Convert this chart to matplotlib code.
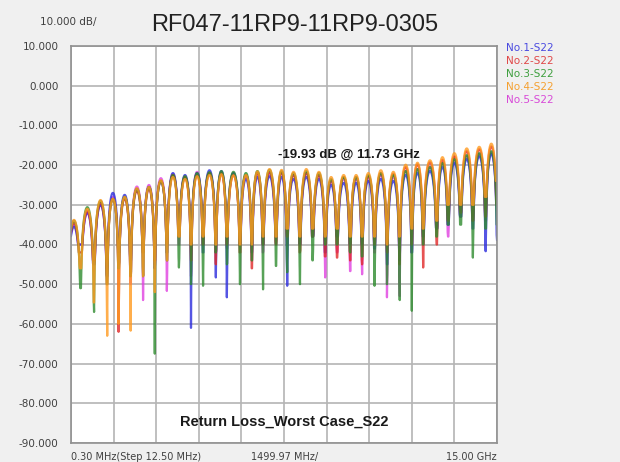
import numpy as np
import matplotlib
matplotlib.use("Agg")
import matplotlib.pyplot as plt

# sweep: 0.30 MHz start, 12.50 MHz step, up to 15 GHz
f_start = 0.0003
f_step = 0.0125
n_pts = 1201

# frequencies (GHz) of the ripple nulls
nulls = [0.34, 0.81, 1.27, 1.68, 2.10, 2.54, 2.95, 3.38, 3.80, 4.23, 4.65, 5.10,
         5.49, 5.95, 6.37, 6.76, 7.22, 7.61, 8.06, 8.51, 8.95, 9.37, 9.83, 10.25,
         10.69, 11.13, 11.57, 12.00, 12.40, 12.88, 13.28, 13.72, 14.15, 14.60, 15.00]

# lobe peak levels (dB) just below each null
peak_1 = [-35.5, -32.0, -30.0, -27.0, -27.5, -26.0, -25.5, -24.0, -22.0, -22.5, -22.0, -21.3,
          -21.5, -22.0, -23.5, -23.0, -22.8, -23.0, -23.5, -23.0, -23.5, -25.0, -24.5, -24.5,
          -24.0, -23.5, -24.0, -22.5, -22.0, -21.5, -20.5, -19.5, -18.5, -17.8, -17.2]
peak_2 = [-34.5, -31.5, -29.5, -28.5, -28.5, -26.5, -26.0, -24.0, -22.5, -23.0, -22.5, -22.0,
          -22.0, -22.5, -22.5, -22.0, -21.8, -21.8, -22.5, -22.0, -22.5, -23.8, -23.0, -23.0,
          -22.8, -22.0, -22.2, -20.5, -19.8, -19.3, -18.7, -17.8, -16.5, -16.0, -15.3]
peak_3 = [-34.0, -30.6, -29.0, -28.5, -28.0, -26.0, -25.5, -24.0, -22.5, -22.8, -22.0, -21.8,
          -21.5, -21.7, -22.0, -21.5, -21.2, -21.5, -22.0, -21.5, -22.0, -23.5, -23.0, -23.0,
          -22.5, -22.0, -22.5, -21.5, -21.0, -20.5, -19.5, -18.5, -17.5, -17.0, -16.5]
peak_4 = [-33.8, -31.0, -28.8, -28.5, -28.0, -25.8, -25.5, -23.8, -23.0, -23.5, -22.8, -22.5,
          -22.3, -22.6, -22.5, -21.6, -21.0, -21.2, -21.7, -21.0, -21.7, -23.0, -22.5, -22.5,
          -22.0, -21.3, -21.7, -19.9, -19.4, -18.8, -18.0, -17.0, -15.8, -15.4, -14.6]
peak_5 = [-35.0, -32.0, -30.0, -28.0, -28.0, -25.4, -25.0, -23.3, -22.3, -23.0, -21.7, -22.0,
          -22.0, -22.0, -22.5, -22.0, -22.0, -22.0, -22.5, -22.0, -22.5, -24.0, -23.5, -23.5,
          -23.0, -22.5, -23.0, -21.5, -21.0, -20.5, -19.5, -18.8, -17.8, -17.2, -16.8]

# depth (dB) of each null
dip_1 = [-40, -45, -48, -42, -44, -40, -46, -42, -36, -61, -42, -48.3, -53.3, -40, -42, -40,
         -38, -50.4, -40, -38, -42, -38, -40, -40, -41, -45, -44, -42, -38, -36, -35, -33,
         -36, -41.7, -38.8]
dip_2 = [-42, -44, -50, -62, -48, -42, -44, -40, -38, -44, -40, -45, -40, -42, -46, -40,
         -40, -38, -42, -38, -43, -43.3, -44, -45, -40, -42, -45, -40, -45.8, -40, -34, -32,
         -34, -33, -30]
dip_3 = [-51, -57, -50, -46, -48, -48, -67.5, -44, -45.8, -50, -50.4, -42, -45, -50, -44,
         -51.3, -45.4, -47, -50, -44, -40, -40, -42, -43, -50.4, -50, -54, -56.7, -40, -38,
         -35, -35, -43.3, -36, -35]
dip_4 = [-46, -54.6, -63, -60, -61.7, -48, -52, -44, -38, -40, -38, -40, -38, -40, -40, -38,
         -38, -36, -38, -36, -38, -36, -38, -38, -38, -40, -38, -36, -36, -34, -30, -30, -30,
         -28, -24]
dip_5 = [-40, -44, -46, -45, -50, -54, -45, -51.7, -40, -48, -40, -42, -41, -40, -44, -42,
         -40, -40, -40, -38, -48.3, -42, -46.7, -47.5, -42, -53.3, -53, -42, -40, -36, -38,
         -33, -34, -34, -30]

names = ["No.1-S22", "No.2-S22", "No.3-S22", "No.4-S22", "No.5-S22"]
colors = ["#2b2bdc", "#e02828", "#2e8b2e", "#ff9a1f", "#e040e0"]
text_colors = ["#4a4ae0", "#e04848", "#3f9f3f", "#f5a030", "#d84ad8"]
draw_order = [4, 0, 1, 2, 3]

y_ticks = [10, 0, -10, -20, -30, -40, -50, -60, -70, -80, -90]

freq = f_start + f_step * np.arange(n_pts)
nl = np.array(nulls)
bounds = np.concatenate([[nl[0] - (nl[1] - nl[0])], nl])


def trace(peaks, dips):
    pk = np.array(peaks)
    dp = np.array(dips)
    i = np.clip(np.searchsorted(nl, freq), 0, len(nl) - 1)
    t = (freq - bounds[i]) / (bounds[i + 1] - bounds[i])
    y = pk[i] + 20 * np.log10(np.maximum(np.abs(np.sin(np.pi * t)), 1e-4))
    near = np.abs(freq[:, None] - nl[None, :]).argmin(axis=1)
    y = np.maximum(y, dp[near])
    for k, fn in enumerate(nl):
        y[np.abs(freq - fn).argmin()] = dp[k]
    return y


peaks = [peak_1, peak_2, peak_3, peak_4, peak_5]
dips = [dip_1, dip_2, dip_3, dip_4, dip_5]

fig = plt.figure(figsize=(6.2, 4.62), dpi=100, facecolor="#f0f0f0")
ax = fig.add_axes([71 / 620, 1 - 443 / 462, 426 / 620, 397 / 462])
ax.set_facecolor("white")

for k in draw_order:
    ax.plot(freq, trace(peaks[k], dips[k]), color=colors[k], lw=1.6, alpha=0.8)

ax.set_xlim(f_start, 15.0)
ax.set_ylim(-90, 10)
ax.set_xticks(np.linspace(f_start, 15.0, 11))
ax.set_xticklabels([])
ax.set_yticks(y_ticks)
ax.set_yticklabels(["%.3f" % v for v in y_ticks], fontsize=7.5, color="#404040")
ax.tick_params(length=0, pad=9)
ax.grid(True, color="#b4b4b4", lw=1.2)
ax.set_axisbelow(True)
for s in ax.spines.values():
    s.set_color("#909090")
    s.set_linewidth(1.2)

fig.text(295 / 620, 1 - 25 / 462, "RF047-11RP9-11RP9-0305", ha="center", va="center",
         fontsize=17, family="Liberation Sans", color="#222222")
fig.text(68 / 620, 1 - 22 / 462, "10.000 dB/", ha="center", va="center",
         fontsize=7.5, color="#404040")

for k, (nm, tc) in enumerate(zip(names, text_colors)):
    fig.text(506 / 620, 1 - (48 + 13 * k) / 462, nm, ha="left", va="center",
             fontsize=7.5, color=tc)

ax.text((349 - 71) / 426, 1 - (155 - 46) / 397, "-19.93 dB @ 11.73 GHz",
        transform=ax.transAxes, ha="center", va="center", fontsize=9.5,
        fontweight="bold", family="Liberation Sans", color="#1a1a1a")
ax.text(0.5, 1 - (422 - 46) / 397, "Return Loss_Worst Case_S22", transform=ax.transAxes,
        ha="center", va="center", fontsize=10.5, fontweight="bold",
        family="Liberation Sans", color="#1a1a1a")

fig.text(71 / 620, 1 - 457 / 462, "0.30 MHz(Step 12.50 MHz)", ha="left", va="center",
         fontsize=7, color="#404040")
fig.text(285 / 620, 1 - 457 / 462, "1499.97 MHz/", ha="center", va="center",
         fontsize=7, color="#404040")
fig.text(497 / 620, 1 - 457 / 462, "15.00 GHz", ha="right", va="center",
         fontsize=7, color="#404040")

fig.savefig("out.png", dpi=100, facecolor=fig.get_facecolor())
